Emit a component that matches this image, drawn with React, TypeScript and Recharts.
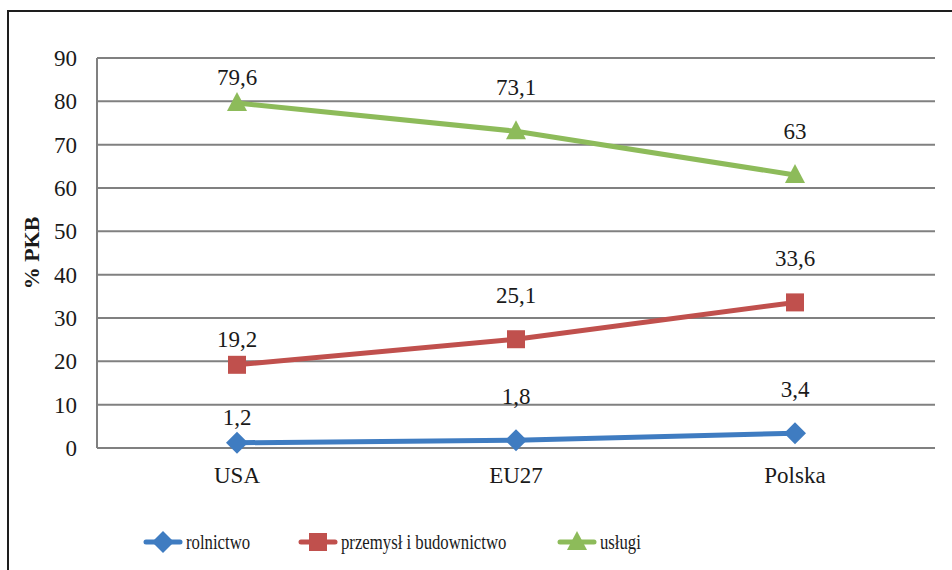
import React from 'react';
import { LineChart, Line, XAxis, YAxis, CartesianGrid, LabelList, Legend, Label } from 'recharts';

const categories = ['USA', 'EU27', 'Polska'];
const rolnictwo = [1.2, 1.8, 3.4];
const przemysl = [19.2, 25.1, 33.6];
const uslugi = [79.6, 73.1, 63];
const yTicks = [0, 10, 20, 30, 40, 50, 60, 70, 80, 90];

const series = [
  { key: 'rolnictwo', name: 'rolnictwo', color: '#3F7CC1', shape: 'diamond' },
  { key: 'przemysl', name: 'przemysł i budownictwo', color: '#C0504D', shape: 'square' },
  { key: 'uslugi', name: 'usługi', color: '#8DBB5A', shape: 'triangle' },
];

const data = categories.map((c, i) => ({
  name: c,
  rolnictwo: rolnictwo[i],
  przemysl: przemysl[i],
  uslugi: uslugi[i],
}));

// distance from point to label baseline, per category column
const labelLift = [18, 36, 36];

const FONT = '"Liberation Serif", "Times New Roman", serif';
const TEXT = '#1a1a1a';

const fmt = (v: number) => String(v).replace('.', ',');

function Marker({ cx, cy, shape, color }: { cx: number; cy: number; shape: string; color: string }) {
  if (cx == null || cy == null) return null;
  if (shape === 'diamond') {
    const r = 11;
    return <polygon points={`${cx},${cy - r} ${cx + r},${cy} ${cx},${cy + r} ${cx - r},${cy}`} fill={color} />;
  }
  if (shape === 'square') {
    const s = 9;
    return <rect x={cx - s} y={cy - s} width={s * 2} height={s * 2} fill={color} />;
  }
  const h = 10;
  return <polygon points={`${cx},${cy - h - 1} ${cx + h},${cy + h - 2} ${cx - h},${cy + h - 2}`} fill={color} />;
}

function ValueLabel(props: any) {
  const { x, y, width, value, index } = props;
  const cx = x + (width || 0) / 2;
  return (
    <text x={cx} y={y - labelLift[index]} textAnchor="middle" fontFamily={FONT} fontSize={23} fill={TEXT}>
      {fmt(value)}
    </text>
  );
}

const legendX = [143, 298, 557];

function LegendContent() {
  return (
    <div style={{ position: 'relative', width: 952, height: 30, fontFamily: FONT }}>
      {series.map((s, i) => (
        <div
          key={s.key}
          style={{ position: 'absolute', left: legendX[i], top: 0, height: 30, display: 'flex', alignItems: 'center' }}
        >
          <svg width={40} height={30}>
            <line x1={3} y1={15} x2={37} y2={15} stroke={s.color} strokeWidth={5} strokeLinecap="round" />
            <Marker cx={20} cy={15} shape={s.shape} color={s.color} />
          </svg>
          <span
            style={{
              fontSize: 22,
              color: TEXT,
              marginLeft: 3,
              display: 'inline-block',
              transform: 'scaleX(0.76)',
              transformOrigin: 'left center',
              whiteSpace: 'nowrap',
            }}
          >
            {s.name}
          </span>
        </div>
      ))}
    </div>
  );
}

export default function App() {
  return (
    <div style={{ position: 'absolute', left: 0, top: 0, width: 952, height: 570, overflow: 'hidden', background: '#fff' }}>
      <div
        style={{
          position: 'absolute',
          left: 7,
          top: 10,
          width: 1000,
          height: 700,
          border: '2px solid #1e1e1e',
          boxSizing: 'border-box',
        }}
      />
      <div style={{ position: 'absolute', left: 0, top: 0 }}>
        <LineChart width={952} height={570} data={data} margin={{ top: 58, right: 17, bottom: 42, left: 37 }}>
          <CartesianGrid horizontal vertical={false} stroke="#808080" strokeWidth={2} />
          <XAxis
            dataKey="name"
            padding={{ left: 140, right: 140 }}
            axisLine={{ stroke: '#808080', strokeWidth: 2 }}
            tickLine={false}
            tickMargin={13}
            height={50}
            tick={{ fontFamily: FONT, fontSize: 23, fill: TEXT }}
          />
          <YAxis
            domain={[0, 90]}
            ticks={yTicks}
            width={60}
            axisLine={{ stroke: '#808080', strokeWidth: 2 }}
            tickLine={false}
            tickMargin={14}
            tick={{ fontFamily: FONT, fontSize: 23, fill: TEXT }}
          >
            <Label
              content={({ viewBox }: any) => {
                const cx = 31;
                const cy = viewBox.y + viewBox.height / 2;
                return (
                  <text
                    x={cx}
                    y={cy}
                    transform={`rotate(-90 ${cx} ${cy})`}
                    textAnchor="middle"
                    dominantBaseline="central"
                    fontFamily={FONT}
                    fontWeight="bold"
                    fontSize={22}
                    fill={TEXT}
                  >
                    % PKB
                  </text>
                );
              }}
            />
          </YAxis>
          <Legend
            verticalAlign="bottom"
            content={<LegendContent />}
            wrapperStyle={{ left: 0, top: 527, bottom: 'auto', width: 952, height: 30 }}
          />
          {series.map((s) => (
            <Line
              key={s.key}
              dataKey={s.key}
              name={s.name}
              stroke={s.color}
              strokeWidth={5}
              isAnimationActive={false}
              dot={(p: any) => <Marker key={`${s.key}-${p.index}`} cx={p.cx} cy={p.cy} shape={s.shape} color={s.color} />}
              activeDot={false}
            >
              <LabelList dataKey={s.key} content={<ValueLabel />} />
            </Line>
          ))}
        </LineChart>
      </div>
    </div>
  );
}
